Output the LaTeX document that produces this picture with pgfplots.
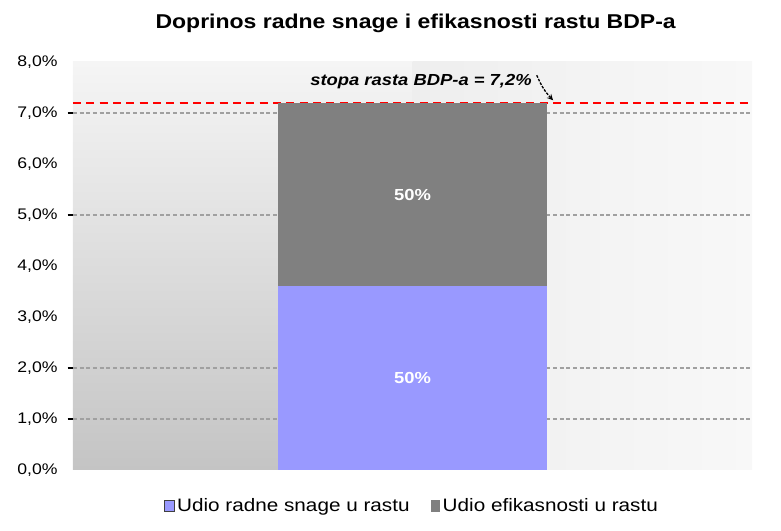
\documentclass[border=0pt]{standalone}
\usepackage{pgfplots}
\pgfplotsset{compat=1.18}
\usepackage{fontspec}
\setmainfont[FakeStretch=1.15]{Liberation Sans}
\definecolor{barblue}{RGB}{153,153,255}
\definecolor{bargray}{RGB}{128,128,128}
\definecolor{bgtop}{RGB}{245,245,245}
\definecolor{bgbot}{RGB}{196,196,196}
\definecolor{rbgl}{RGB}{238,238,238}
\definecolor{rbgr}{RGB}{248,248,248}
\definecolor{gridgray}{RGB}{160,160,160}
\begin{document}
\begin{tikzpicture}
% plot-area background (axis box spans (0,0)--(509.25pt,306pt))
\shade[top color=bgtop, bottom color=bgbot] (0pt,0pt) rectangle (254.6pt,306pt);
\shade[left color=rbgl, right color=rbgr] (254.6pt,0pt) rectangle (509.25pt,306pt);
\begin{axis}[
  name=ax, at={(0,0)}, anchor=south west,
  scale only axis, width=509.25pt, height=306pt,
  ybar stacked, bar width=0.396,
  xmin=-0.5, xmax=0.5, ymin=0, ymax=8,
  xtick=\empty,
  ytick={0,1,...,8},
  ytick pos=left,
  major tick style={draw=none},
  extra y ticks={1,2,5,7},
  extra y tick labels={},
  extra y tick style={ymajorgrids, tick align=outside, major tick length=4pt,
     major tick style={draw=black, line width=1.2pt}},
  grid style={gridgray, line width=0.9pt, dash pattern=on 3pt off 2pt},
  axis line style={draw=none},
  /pgf/number format/assume math mode=true,
  yticklabel={\pgfmathprintnumber[fixed, fixed zerofill, precision=1, use comma]{\tick}\%},
  yticklabel style={font=\fontsize{11.5}{13}\selectfont, xshift=-8pt},
  legend style={at={(0.5,-0.088)}, anchor=center, draw=none, fill=none,
    legend columns=2, font=\fontsize{13.5}{15}\selectfont,
    /tikz/every even column/.append style={column sep=14pt}},
  legend cell align=left,
]
\addplot[fill=barblue, draw=none, area legend,
  legend image code/.code={\draw[fill=barblue, draw=black!75, line width=0.7pt] (0cm,-0.15cm) rectangle (0.24cm,0.15cm);}]
  coordinates {(0,3.6)};
\addlegendentry{Udio radne snage u rastu}
\addplot[fill=bargray, draw=none, area legend,
  legend image code/.code={\fill[bargray] (0cm,-0.15cm) rectangle (0.24cm,0.15cm);}]
  coordinates {(0,3.6)};
\addlegendentry{Udio efikasnosti u rastu}
\addplot[red, line width=1.6pt, dash pattern=on 6pt off 4pt, forget plot, sharp plot, stack plots=false]
  coordinates {(-0.5,7.2) (0.5,7.2)};
\coordinate (lt) at (axis cs:0,5.4);
\coordinate (lb) at (axis cs:0,1.8);
\coordinate (ann) at (axis cs:0.0125,7.62);
\coordinate (a1) at (axis cs:0.183,7.74);
\coordinate (a2) at (axis cs:0.207,7.25);
\end{axis}
\node[white, font=\bfseries\fontsize{12}{14}\selectfont] at (lt) {50\%};
\node[white, font=\bfseries\fontsize{12}{14}\selectfont] at (lb) {50\%};
\node[font=\bfseries\itshape\fontsize{12}{14}\selectfont] at (ann) {stopa rasta BDP-a = 7,2\%};
\draw[-stealth, line width=1pt, dash pattern=on 2pt off 1pt] (a1) to[bend right=10] (a2);
\node[font=\bfseries\fontsize{15}{17}\selectfont] at (257pt,335pt) {Doprinos radne snage i efikasnosti rastu BDP-a};
\pgfresetboundingbox
\path (-54.75pt,-45.75pt) rectangle (531pt,352.5pt);
\end{tikzpicture}
\end{document}
